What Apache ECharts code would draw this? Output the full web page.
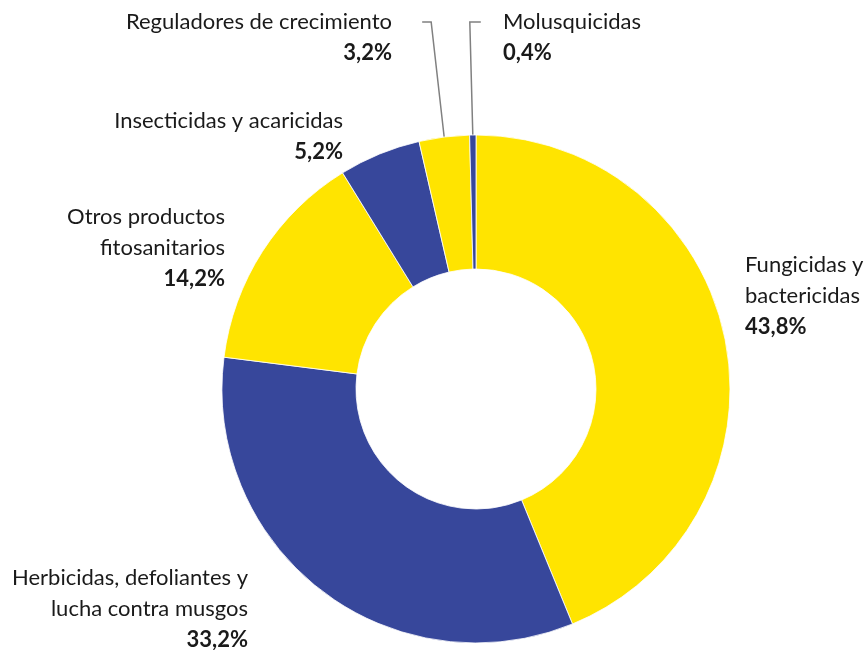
<!DOCTYPE html>
<html>
<head>
<meta charset="utf-8">
<script src="https://cdn.jsdelivr.net/npm/echarts@6/dist/echarts.min.js"></script>
<style>
html,body{margin:0;padding:0;background:#fff;}
#chart{width:866px;height:650px;}
</style>
</head>
<body>
<div id="chart"></div>
<script>
// ---- data ----
const categories = [
  'Fungicidas y\nbactericidas',
  'Herbicidas, defoliantes y\nlucha contra musgos',
  'Otros productos\nfitosanitarios',
  'Insecticidas y acaricidas',
  'Reguladores de crecimiento',
  'Molusquicidas'
];
const values = [43.8, 33.2, 14.2, 5.2, 3.2, 0.4];
const valueLabels = ['43,8%', '33,2%', '14,2%', '5,2%', '3,2%', '0,4%'];

// ---- styling / layout (not data) ----
const YELLOW = '#FFE400';
const BLUE = '#37479B';
const sliceColors = [YELLOW, BLUE, YELLOW, BLUE, YELLOW, BLUE];
const LH = 31;
const labelPos = [
  {x: 745, y: 249.5, align: 'left'},
  {x: 248, y: 562.5, align: 'right'},
  {x: 225, y: 201.5, align: 'right'},
  {x: 343, y: 105.5, align: 'right'},
  {x: 392, y: 6.5, align: 'right'},
  {x: 503, y: 6.5, align: 'left'}
];
const withLeader = [false, false, false, false, true, true];

const FONT = 'Lato';
const baseText = {fontFamily: FONT, fontSize: 22, lineHeight: LH, color: '#1a1a1a'};
const rich = {
  nL: Object.assign({}, baseText, {align: 'left'}),
  nR: Object.assign({}, baseText, {align: 'right'}),
  vL: Object.assign({}, baseText, {align: 'left', fontWeight: 'bold'}),
  vR: Object.assign({}, baseText, {align: 'right', fontWeight: 'bold'})
};

const data = categories.map((name, i) => ({
  name: name,
  value: values[i],
  itemStyle: {color: sliceColors[i]},
  labelLine: {show: withLeader[i]}
}));

const chart = echarts.init(document.getElementById('chart'), null, {renderer: 'canvas'});
chart.setOption({
  animation: false,
  backgroundColor: '#fff',
  series: [{
    type: 'pie',
    center: [476, 389],
    radius: [120, 254],
    startAngle: 90,
    clockwise: true,
    avoidLabelOverlap: false,
    itemStyle: {borderColor: '#fff', borderWidth: 0.8},
    label: {
      show: true,
      position: 'outside',
      formatter: function (p) {
        const a = labelPos[p.dataIndex].align === 'right' ? 'R' : 'L';
        const lines = categories[p.dataIndex].split('\n').map(s => '{n' + a + '|' + s + '}');
        lines.push('{v' + a + '|' + valueLabels[p.dataIndex] + '}');
        return lines.join('\n');
      },
      rich: rich
    },
    labelLine: {show: false, length: 10, length2: 10, lineStyle: {color: '#808080', width: 1.5}},
    labelLayout: function (params) {
      const i = params.dataIndex;
      const pos = labelPos[i];
      const out = {x: pos.x, y: pos.y, align: pos.align, verticalAlign: 'top'};
      if (withLeader[i] && params.labelLinePoints) {
        const p0 = params.labelLinePoints[0];
        const ly = pos.y + LH / 2;
        if (pos.align === 'right') {
          out.labelLinePoints = [[p0[0], p0[1]], [p0[0] - 13, ly], [p0[0] - 22, ly]];
        } else {
          out.labelLinePoints = [[p0[0], p0[1]], [p0[0] - 3, ly], [p0[0] + 8, ly]];
        }
      }
      return out;
    },
    data: data
  }]
});
</script>
</body>
</html>
